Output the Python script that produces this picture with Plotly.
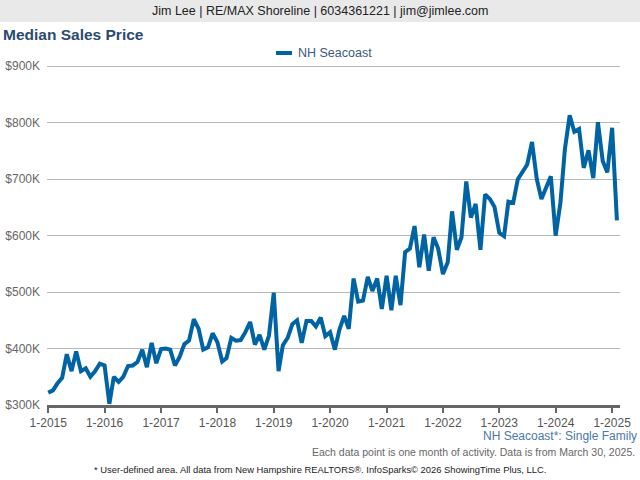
import pandas as pd
import plotly.graph_objects as go

# Median sales price, NH Seacoast single family, in $K, one value per month
prices_2015 = [322, 326, 338, 348, 390, 360, 395, 360, 365, 350, 360, 373]
prices_2016 = [370, 302, 350, 341, 350, 369, 370, 376, 398, 367, 410, 374]
prices_2017 = [399, 400, 398, 370, 385, 408, 414, 452, 435, 398, 402, 427]
prices_2018 = [411, 377, 383, 419, 414, 415, 429, 447, 407, 424, 398, 423]
prices_2019 = [499, 360, 406, 419, 443, 450, 410, 449, 449, 439, 455, 422]
prices_2020 = [429, 398, 433, 458, 435, 524, 483, 485, 527, 502, 524, 470]
prices_2021 = [529, 468, 529, 477, 571, 577, 617, 544, 602, 538, 597, 577]
prices_2022 = [532, 553, 643, 575, 597, 696, 632, 656, 575, 673, 665, 651]
prices_2023 = [605, 599, 660, 658, 700, 715, 726, 766, 700, 665, 685, 705]
prices_2024 = [600, 658, 753, 813, 784, 789, 720, 751, 702, 801, 732, 712]
prices_2025 = [791, 627]

median_price = (prices_2015 + prices_2016 + prices_2017 + prices_2018 + prices_2019
                + prices_2020 + prices_2021 + prices_2022 + prices_2023 + prices_2024
                + prices_2025)
months = pd.date_range("2015-01-01", periods=len(median_price), freq="MS")

y_ticks = [300, 400, 500, 600, 700, 800, 900]
y_labels = ["$300K", "$400K", "$500K", "$600K", "$700K", "$800K", "$900K"]

W, H = 640, 480
ML, MR, MT, MB = 47, 20, 64, 75
PW, PH = W - ML - MR, H - MT - MB

def px_x(x):
    return (x - ML) / PW

def px_y(y):
    return (H - MB - y) / PH

FONT = "Liberation Sans, Arial, sans-serif"
LINE_BLUE = "#0063a3"

fig = go.Figure()
fig.add_trace(go.Scatter(
    x=months, y=median_price, mode="lines", name="NH Seacoast",
    line=dict(color=LINE_BLUE, width=4),
    showlegend=False, cliponaxis=False,
))

# header band
fig.add_shape(type="rect", xref="paper", yref="paper",
              x0=px_x(0), x1=px_x(W), y0=px_y(22), y1=px_y(0),
              fillcolor="#e9e9e9", line_width=0, layer="below")

# legend swatch drawn by hand (short thick line like the original)
fig.add_shape(type="line", xref="paper", yref="paper",
              x0=px_x(276), x1=px_x(292), y0=px_y(53), y1=px_y(53),
              line=dict(color=LINE_BLUE, width=4))

notes = [
    dict(text="Jim Lee | RE/MAX Shoreline | 6034361221 | jim@jimlee.com",
         x=320, y=11, xanchor="center", size=12.5, color="#222222"),
    dict(text="<b>Median Sales Price</b>", x=1, y=34, xanchor="left", size=15.5, color="#2b4a6e"),
    dict(text="NH Seacoast", x=296, y=53, xanchor="left", size=12.5, color="#3a5a80"),
    dict(text="NH Seacoast*: Single Family", x=639, y=436, xanchor="right", size=12, color="#4a78a8"),
    dict(text="Each data point is one month of activity. Data is from March 30, 2025.",
         x=637, y=452, xanchor="right", size=10.5, color="#666666"),
    dict(text="* User-defined area. All data from New Hampshire REALTORS®. InfoSparks© 2026 ShowingTime Plus, LLC.",
         x=320, y=469, xanchor="center", size=9.4, color="#222222"),
]
for n in notes:
    fig.add_annotation(text=n["text"], xref="paper", yref="paper",
                       x=px_x(n["x"]), y=px_y(n["y"]), xanchor=n["xanchor"], yanchor="middle",
                       showarrow=False, font=dict(family=FONT, size=n["size"], color=n["color"]))

fig.update_layout(
    width=W, height=H,
    margin=dict(l=ML, r=MR, t=MT, b=MB, autoexpand=False),
    paper_bgcolor="white", plot_bgcolor="white",
    font=dict(family=FONT, size=12, color="#666666"),
)
fig.update_xaxes(
    range=["2014-12-24", "2025-02-21"],
    tickformat="%-m-%Y", dtick="M12", tick0="2015-01-01",
    showgrid=False, zeroline=False,
    showline=True, linecolor="#666666", linewidth=3,
    ticks="outside", ticklen=5, tickwidth=2, tickcolor="#666666",
    tickfont=dict(size=12, color="#555555"),
)
fig.update_yaxes(
    range=[300, 904], tickmode="array", tickvals=y_ticks, ticktext=y_labels,
    showgrid=True, gridcolor="#b8b8b8", gridwidth=1,
    zeroline=False, showline=False, ticks="", ticklabelstandoff=6,
    tickfont=dict(size=12, color="#666666"),
)

fig.write_html("out.html", config={"displayModeBar": False},
               post_script="document.body.style.margin='0';")
